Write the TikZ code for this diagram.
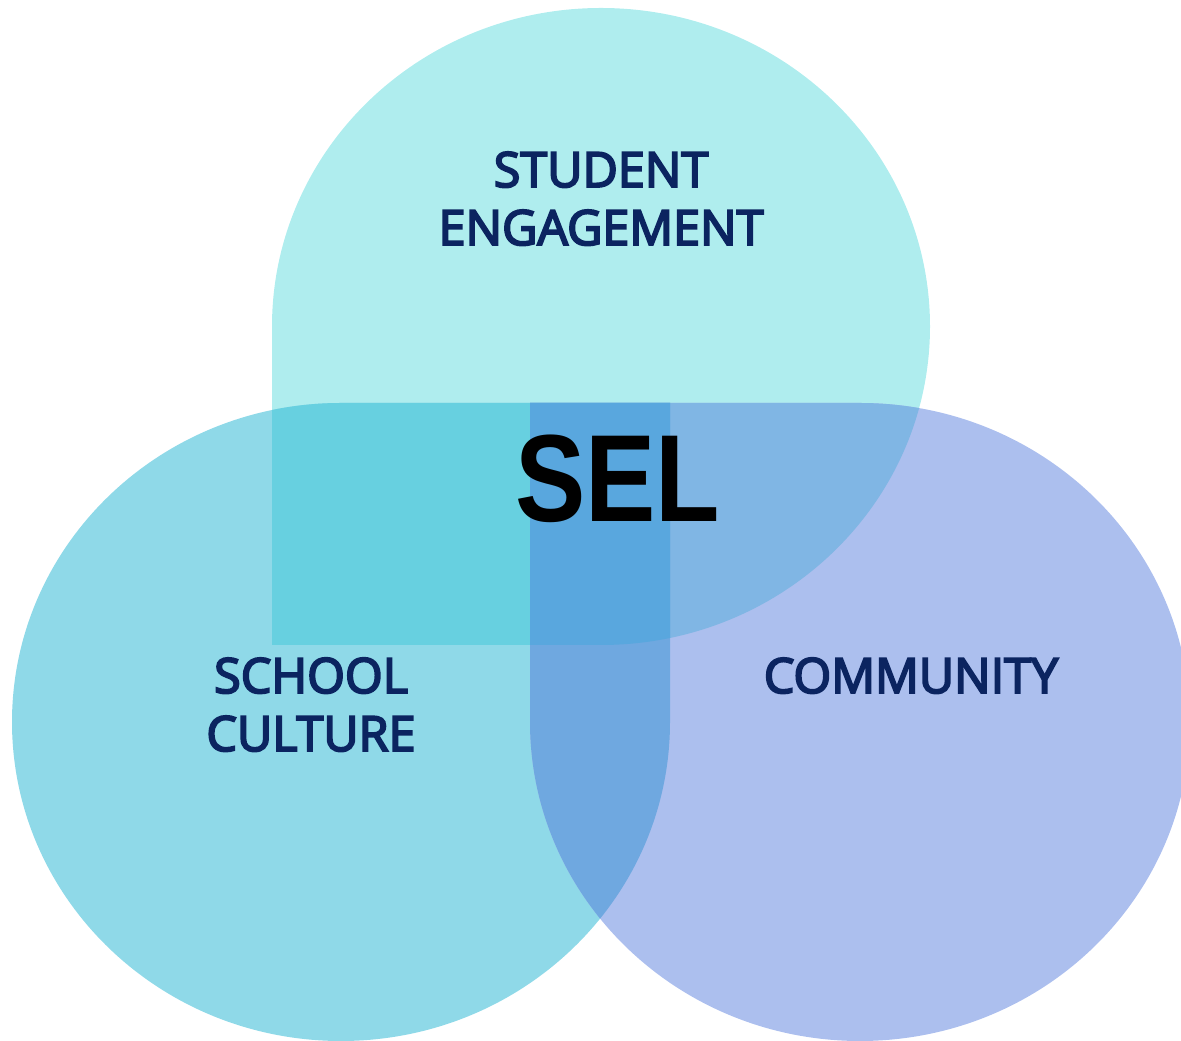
\documentclass[tikz,border=0pt]{standalone}
\usepackage{fontspec}
\usepackage{graphicx}
\setmainfont{Open Sans}
\newfontfamily\labfont{Open Sans}[FakeBold=4]
\newfontfamily\selfont{Liberation Sans}
\definecolor{ctop}{HTML}{AFEDEE}
\definecolor{cleft}{HTML}{8FD9E8}
\definecolor{cright}{HTML}{ACBFEE}
\definecolor{ctl}{HTML}{67D0E0}
\definecolor{ctr}{HTML}{80B6E4}
\definecolor{clr}{HTML}{6FA8E0}
\definecolor{call}{HTML}{59A7DE}
\definecolor{navy}{HTML}{0B2460}
\newcommand{\toppath}{(272,396) -- (272,714.5) arc[start angle=180, end angle=-90, x radius=329, y radius=318.5] -- cycle}
\newcommand{\leftpath}{(341,638) arc[start angle=90, end angle=360, x radius=329, y radius=319] -- (670,638) -- cycle}
\newcommand{\rightpath}{(530,319) arc[start angle=180, end angle=450, x radius=330, y radius=319] -- (530,638) -- cycle}
\begin{document}
\begin{tikzpicture}[x=1pt,y=1pt,
  lab/.style={font=\labfont\fontsize{48.5}{58}\selectfont, text=navy, anchor=base, inner sep=0pt, align=center},
  seltext/.style={font=\selfont\fontsize{124}{130}\selectfont\bfseries, text=black, anchor=base, inner sep=0pt}]
\useasboundingbox (0,0) rectangle (1181,1041);
\clip (0,0) rectangle (1181,1041);
\fill[ctop] \toppath;
\fill[cleft] \leftpath;
\fill[cright] \rightpath;
\begin{scope}
  \clip \toppath;
  \fill[ctl] \leftpath;
  \fill[ctr] \rightpath;
\end{scope}
\begin{scope}
  \clip \leftpath;
  \fill[clr] \rightpath;
\end{scope}
\begin{scope}
  \clip \toppath;
  \clip \leftpath;
  \fill[call] \rightpath;
\end{scope}
\node[lab] (s1) at (601,854) {STUDENT};
\node[lab] (s2) at (601,796) {ENGAGEMENT};
\node[lab] (c1) at (311,348) {SCHOOL};
\node[lab] (c2) at (311,290) {CULTURE};
\node[lab] (m1) at (911,348) {COMMUNITY};
\node[seltext] (sel) at (617.5,519) {\scalebox{0.85}[1]{SEL}};
\end{tikzpicture}
\end{document}
